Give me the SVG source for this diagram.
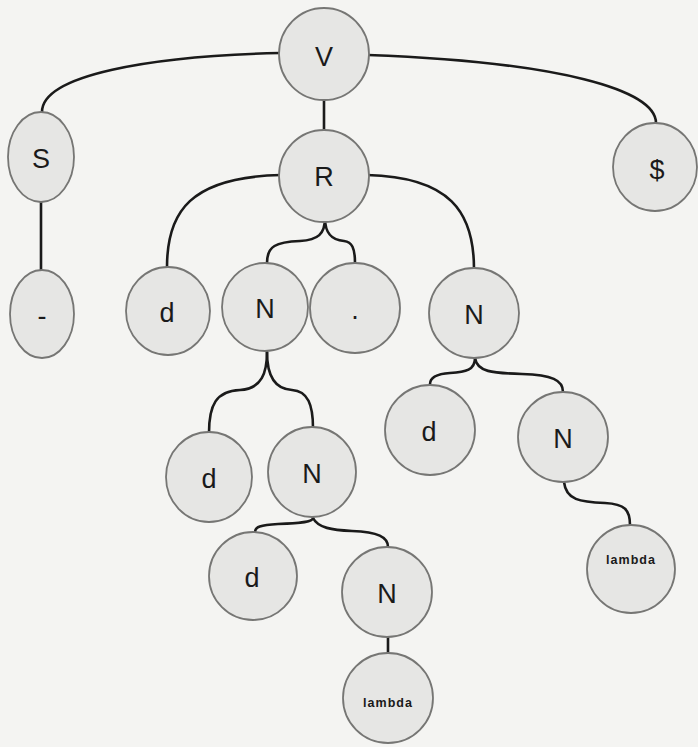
<svg xmlns="http://www.w3.org/2000/svg" width="698" height="747" viewBox="0 0 698 747">
  <style>
    .edge { fill: none; stroke: #1a1a1a; stroke-width: 2.6; stroke-linecap: round; }
    .node ellipse { fill: #e6e6e4; stroke: #767674; stroke-width: 1.8; }
    .node text { font-family: "Liberation Sans", Arial, sans-serif; font-size: 27px; fill: #1a1a1a; text-anchor: middle; dominant-baseline: central; }
    .node text.small { font-size: 12.5px; font-weight: bold; letter-spacing: 1px; }
  </style>
  <rect width="698" height="747" fill="#f4f4f2"/>

  <g id="connectors">
    <path class="edge" d="M280,53 C150,56 42,75 42,112"/>
    <path class="edge" d="M368,55 C560,62 656,90 656,123"/>
    <path class="edge" d="M324,100 V130"/>
    <path class="edge" d="M41,202 V270"/>
    <path class="edge" d="M281,175 C190,177 167,212 167,267"/>
    <path class="edge" d="M367,175 C450,177 474,212 474,269"/>
    <path class="edge" d="M325,218 C325,234 318,240 300,241 C276,242 267,246 267,263"/>
    <path class="edge" d="M325,218 C325,234 332,240 344,241 C352,242 355,248 355,263"/>
    <path class="edge" d="M267,352 C267,372 262,389 240,390 C216,391 209,405 209,433"/>
    <path class="edge" d="M267,352 C267,372 272,389 292,390 C308,391 313,405 313,428"/>
    <path class="edge" d="M475,358 C475,370 466,372 450,373 C436,374 430,378 430,384"/>
    <path class="edge" d="M475,358 C477,372 492,373 522,374 C552,375 563,380 563,392"/>
    <path class="edge" d="M564,482 C566,500 580,502 605,503 C625,504 630,510 630,525"/>
    <path class="edge" d="M313,518 C313,522 302,523 278,524 C260,525 255,527 255,532"/>
    <path class="edge" d="M313,518 C318,528 332,530 352,531 C378,532 388,537 388,547"/>
    <path class="edge" d="M388,637 V653"/>
  </g>

  <g id="node-V" class="node"><ellipse cx="324" cy="54" rx="45" ry="46"/><text x="324" y="57">V</text></g>
  <g id="node-S" class="node"><ellipse cx="41" cy="157" rx="33" ry="45"/><text x="41" y="159">S</text></g>
  <g id="node-dollar" class="node"><ellipse cx="655" cy="167" rx="42" ry="44"/><text x="657" y="170">$</text></g>
  <g id="node-R" class="node"><ellipse cx="324" cy="176" rx="45" ry="46"/><text x="324" y="177">R</text></g>
  <g id="node-dash" class="node"><ellipse cx="42" cy="314" rx="32" ry="44"/><text x="42" y="316">-</text></g>
  <g id="node-d1" class="node"><ellipse cx="168" cy="311" rx="42" ry="44"/><text x="167" y="313">d</text></g>
  <g id="node-N1" class="node"><ellipse cx="265" cy="307" rx="43" ry="44"/><text x="265" y="309">N</text></g>
  <g id="node-dot" class="node"><ellipse cx="355" cy="308" rx="45" ry="45"/><text x="355" y="310">.</text></g>
  <g id="node-N2" class="node"><ellipse cx="474" cy="313" rx="45" ry="45"/><text x="474" y="315">N</text></g>
  <g id="node-d2" class="node"><ellipse cx="209" cy="477" rx="43" ry="45"/><text x="209" y="479">d</text></g>
  <g id="node-N3" class="node"><ellipse cx="312" cy="472" rx="44" ry="45"/><text x="312" y="474">N</text></g>
  <g id="node-d3" class="node"><ellipse cx="430" cy="430" rx="45" ry="45"/><text x="429" y="432">d</text></g>
  <g id="node-N4" class="node"><ellipse cx="563" cy="437" rx="45" ry="45"/><text x="563" y="439">N</text></g>
  <g id="node-d4" class="node"><ellipse cx="253" cy="576" rx="44" ry="44"/><text x="252" y="578">d</text></g>
  <g id="node-N5" class="node"><ellipse cx="387" cy="592" rx="45" ry="45"/><text x="387" y="594">N</text></g>
  <g id="node-lambda1" class="node"><ellipse cx="631" cy="569" rx="44" ry="44"/><text class="small" x="631" y="560">lambda</text></g>
  <g id="node-lambda2" class="node"><ellipse cx="388" cy="698" rx="45" ry="45"/><text class="small" x="388" y="703">lambda</text></g>
</svg>
